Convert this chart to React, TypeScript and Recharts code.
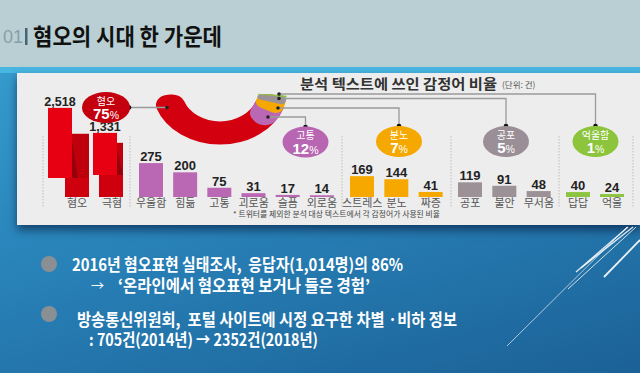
import React from 'react';
import { BarChart, Bar, XAxis, YAxis, LabelList, PieChart, Pie, Cell } from 'recharts';

const KR = "'Noto Sans CJK KR', 'Noto Sans', sans-serif";
const NUM = "'Liberation Sans', Arial, sans-serif";

// ---- data ----
const hateCategories = ['혐오', '극혐'];
const hateValues = [2518, 1331];
const painCategories = ['우울함', '힘듦', '고통', '괴로움', '슬픔', '외로움'];
const painValues = [275, 200, 75, 31, 17, 14];
const angerCategories = ['스트레스', '분노', '짜증'];
const angerValues = [169, 144, 41];
const fearCategories = ['공포', '불안', '무서움'];
const fearValues = [119, 91, 48];
const grievanceCategories = ['답답', '억울'];
const grievanceValues = [40, 24];
const shareNames = ['혐오', '고통', '분노', '공포', '억울함'];
const sharePercents = [75, 12, 7, 5, 1];

// ---- styles ----
const SHARE_COLORS = ['#d3000f', '#bb68b4', '#f6a800', '#9b9196', '#8cc43e'];
const BUBBLE_COLORS = ['#c4000e', '#b866b2', '#f5a800', '#9a8f96', '#8cc43c'];
const BUBBLES = [
  { cx: 106, cy: 107.5, rx: 24 },
  { cx: 305.5, cy: 142, rx: 23 },
  { cx: 399, cy: 141.5, rx: 23 },
  { cx: 506, cy: 141.5, rx: 23 },
  { cx: 595.5, cy: 141.5, rx: 23 },
];
const CONNECTORS = [
  { d: 'M129,107.5 L167,107.5', a: [167, 107.5], b: [129, 107.5] },
  { d: 'M268,117 L305.5,117 L305.5,127', a: [268, 117], b: [305.5, 127] },
  { d: 'M278,108 L399,108 L399,126', a: [278, 108], b: [399, 126] },
  { d: 'M279,98.5 L506,98.5 L506,126', a: [279, 98.5], b: [506, 126] },
  { d: 'M279,94 L595.5,94 L595.5,126', a: [279, 94], b: [595.5, 126] },
];
const SEPARATORS = [43, 130, 342, 451, 559, 633];

const RED_OFF_L = [-8, -3];
const RED_OFF_R = [9, 3];
const RED_FOLD = [26, 10];
const RED_LIFT = [19, 22];
const RED_TICK_DX = [9, 4];
const PAD = 12;

function GroupChart({ left, width, cats, vals, color }: any) {
  const data = cats.map((c: string, i: number) => ({ name: c, value: vals[i] }));
  return (
    <div style={{ position: 'absolute', left: left - PAD, top: 140 }}>
      <BarChart width={width + 2 * PAD} height={77} data={data} margin={{ top: 20, right: PAD, bottom: 0, left: PAD }} barCategoryGap={0}>
        <XAxis dataKey="name" axisLine={false} tickLine={false} tickSize={0} interval={0} height={20}
          tick={{ fontSize: 11, fill: '#555', fontFamily: KR }} />
        <YAxis hide domain={[0, 300]} />
        <Bar dataKey="value" fill={color} barSize={24} isAnimationActive={false}>
          <LabelList dataKey="value" position="top" offset={2} fill="#222" fontSize={13} fontWeight={700} fontFamily={NUM} />
        </Bar>
      </BarChart>
    </div>
  );
}

const RedShape = (props: any) => {
  const { x, y, width, height, index } = props;
  const base = y + height;
  const lx = x + RED_OFF_L[index];
  const rx = x + RED_OFF_R[index];
  const lb = base - RED_LIFT[index];
  const rt = y + RED_FOLD[index];
  const lr = lx + width;
  return (
    <g>
      <rect x={rx} y={rt} width={width} height={base - rt} fill="#cf000e" />
      <rect x={rx} y={rt} width={width} height={lb - rt} fill="#bf000c" />
      <polygon points={`${lr},${rt + 6} ${lr + 6},${lb} ${lr},${lb}`} fill="#96000a" />
      <rect x={lx} y={y} width={width} height={lb - y} fill="#e60012" />
    </g>
  );
};

const RedLabel = (props: any) => {
  const { x, y, width, value, index } = props;
  return (
    <text x={x + width / 2 + RED_OFF_L[index]} y={y - 2} textAnchor="middle" fill="#222"
      fontSize={12.5} fontWeight={700} fontFamily={NUM}>
      {Number(value).toLocaleString('en-US')}
    </text>
  );
};

const RedTick = (props: any) => {
  const { x, y, payload, index } = props;
  return (
    <text x={x + RED_TICK_DX[index]} y={y} dy="0.71em" textAnchor="middle" fill="#555" fontSize={11} fontFamily={KR}>
      {payload.value}
    </text>
  );
};

function HateChart() {
  const data = hateCategories.map((c, i) => ({ name: c, value: hateValues[i] }));
  return (
    <div style={{ position: 'absolute', left: 48 - PAD, top: 81 }}>
      <BarChart width={80 + 2 * PAD} height={136} data={data} margin={{ top: 20, right: PAD, bottom: 0, left: PAD }} barCategoryGap={0}>
        <XAxis dataKey="name" axisLine={false} tickLine={false} tickSize={0} interval={0} height={20} tick={<RedTick />} />
        <YAxis hide scale="log" domain={[260, 3000]} allowDataOverflow />
        <Bar dataKey="value" barSize={24} shape={<RedShape />} isAnimationActive={false}>
          <LabelList dataKey="value" content={<RedLabel />} />
        </Bar>
      </BarChart>
    </div>
  );
}

function Donut() {
  const total = sharePercents.reduce((a, b) => a + b, 0);
  const corner = [13, 13, 8, 4.5, 0];
  return (
    <div style={{ position: 'absolute', left: 140, top: 0, transform: 'scaleY(0.8)', transformOrigin: '80px 91px' }}>
      <PieChart width={160} height={180} margin={{ top: 0, right: 0, bottom: 0, left: 0 }}>
        {sharePercents.map((_, k) => {
          const rest = sharePercents.slice(k).reduce((a, b) => a + b, 0);
          const before = total - rest;
          const data = before > 0
            ? [{ name: 'gap', value: before }, { name: shareNames[k], value: rest }]
            : [{ name: shareNames[k], value: rest }];
          const fills = before > 0 ? ['none', SHARE_COLORS[k]] : [SHARE_COLORS[k]];
          return (
            <Pie key={k} data={data} dataKey="value" cx={80} cy={91} innerRadius={38} outerRadius={67}
              startAngle={185} endAngle={355} cornerRadius={corner[k]} stroke="none" isAnimationActive={false}>
              {fills.map((f, i) => <Cell key={i} fill={f} />)}
            </Pie>
          );
        })}
      </PieChart>
    </div>
  );
}

export default function App() {
  return (
    <div style={{
      position: 'absolute', left: 0, top: 0, width: 640, height: 373, overflow: 'hidden',
      background: 'linear-gradient(165deg, #3aa3d4 0%, #2a86bc 45%, #1b6197 100%)',
    }}>
      <div style={{ position: 'absolute', left: 0, top: 0, width: 640, height: 67, background: '#b9cfd3' }} />
      <div style={{ position: 'absolute', left: 0, top: 67, width: 640, height: 6, background: '#47b6e1' }} />
      <div style={{
        position: 'absolute', left: 17, top: 73, width: 623, height: 152, background: '#ededed',
        boxShadow: '0 5px 9px rgba(0,10,40,0.55)',
      }} />

      <HateChart />
      <GroupChart left={134} width={205} cats={painCategories} vals={painValues} color="#bb68b4" />
      <GroupChart left={345} width={103} cats={angerCategories} vals={angerValues} color="#f6a800" />
      <GroupChart left={453} width={103} cats={fearCategories} vals={fearValues} color="#9b9196" />
      <GroupChart left={561} width={68} cats={grievanceCategories} vals={grievanceValues} color="#8cc43e" />
      <Donut />

      <svg width={640} height={373} style={{ position: 'absolute', left: 0, top: 0, pointerEvents: 'none' }}>
        <text x={3} y={43} fontSize={18} fill="#86a0aa" fontFamily={NUM}>01</text>
        <rect x={25} y={28} width={2.5} height={17} fill="#4a6372" />
        <text x={33} y={45} fontSize={23} fontWeight={700} fill="#111" fontFamily={KR}
          textLength={189} lengthAdjust="spacingAndGlyphs">혐오의 시대 한 가운데</text>

        <text x={300} y={89} fontSize={14} fontWeight={700} fill="#333" fontFamily={KR}
          textLength={197} lengthAdjust="spacingAndGlyphs">분석 텍스트에 쓰인 감정어 비율</text>
        <text x={502} y={88} fontSize={8.5} fill="#555" fontFamily={KR}>(단위: 건)</text>
        <text x={233} y={216.5} fontSize={7.5} fill="#444" fontFamily={KR}
          textLength={207} lengthAdjust="spacingAndGlyphs">* 트위터를 제외한 분석 대상 텍스트에서 각 감정어가 사용된 비율</text>

        {SEPARATORS.map((sx) => (
          <line key={sx} x1={sx} y1={136} x2={sx} y2={207} stroke="#bdbdbd" strokeWidth={1} strokeDasharray="1.5 1.5" />
        ))}

        {CONNECTORS.map((c, i) => (
          <g key={i}>
            <path d={c.d} fill="none" stroke="#9a9a9a" strokeWidth={1.3} />
            <circle cx={c.a[0]} cy={c.a[1]} r={1.8} fill="#222" />
            <circle cx={c.b[0]} cy={c.b[1]} r={2.3} fill="#111" />
          </g>
        ))}

        {BUBBLES.map((b, i) => (
          <g key={i}>
            <ellipse cx={b.cx} cy={b.cy} rx={b.rx} ry={15.5} fill={BUBBLE_COLORS[i]} />
            <text x={b.cx} y={b.cy - 3} textAnchor="middle" fontSize={10} fill="#fff" fontFamily={KR}>{shareNames[i]}</text>
            <text x={b.cx} y={b.cy + 11.5} textAnchor="middle" fill="#fff" fontFamily={NUM}>
              <tspan fontSize={15} fontWeight={700}>{sharePercents[i]}</tspan>
              <tspan fontSize={10.5}>%</tspan>
            </text>
          </g>
        ))}

        <circle cx={49} cy={264} r={8} fill="#8a8f94" />
        <circle cx={49} cy={314} r={8} fill="#8a8f94" />
        <text x={72} y={270.5} fontSize={16.5} fontWeight={700} fill="#fff" fontFamily={KR}
          textLength={331} lengthAdjust="spacingAndGlyphs" style={{ whiteSpace: 'pre' }}>2016년 혐오표현 실태조사,  응답자(1,014명)의 86%</text>
        <text x={91} y={290} fontSize={13} fill="#fff" fontFamily={KR}>→</text>
        <text x={118} y={291.5} fontSize={16.5} fontWeight={700} fill="#fff" fontFamily={KR}
          textLength={252} lengthAdjust="spacingAndGlyphs">‘온라인에서 혐오표현 보거나 들은 경험’</text>
        <text x={77} y={325.5} fontSize={16.5} fontWeight={700} fill="#fff" fontFamily={KR}
          textLength={380} lengthAdjust="spacingAndGlyphs" style={{ whiteSpace: 'pre' }}>방송통신위원회,  포털 사이트에 시정 요구한 차별 ·비하 정보</text>
        <text x={89} y={346} fontSize={16.5} fontWeight={700} fill="#fff" fontFamily={KR}
          textLength={229} lengthAdjust="spacingAndGlyphs">: 705건(2014년) → 2352건(2018년)</text>

        <line x1={576} y1={272} x2={628} y2={227} stroke="#fff" strokeWidth={1.4} opacity={0.85} />
        <line x1={581} y1={268} x2={633} y2={227} stroke="#fff" strokeWidth={1.4} opacity={0.85} />
        <line x1={568} y1={289} x2={636} y2={227} stroke="#fff" strokeWidth={1} opacity={0.8} />
        <line x1={507} y1={346} x2={627} y2={227} stroke="#fff" strokeWidth={0.8} opacity={0.8} />
        <line x1={604} y1={277} x2={640} y2={240} stroke="#fff" strokeWidth={1.8} opacity={0.9} />
      </svg>
    </div>
  );
}
